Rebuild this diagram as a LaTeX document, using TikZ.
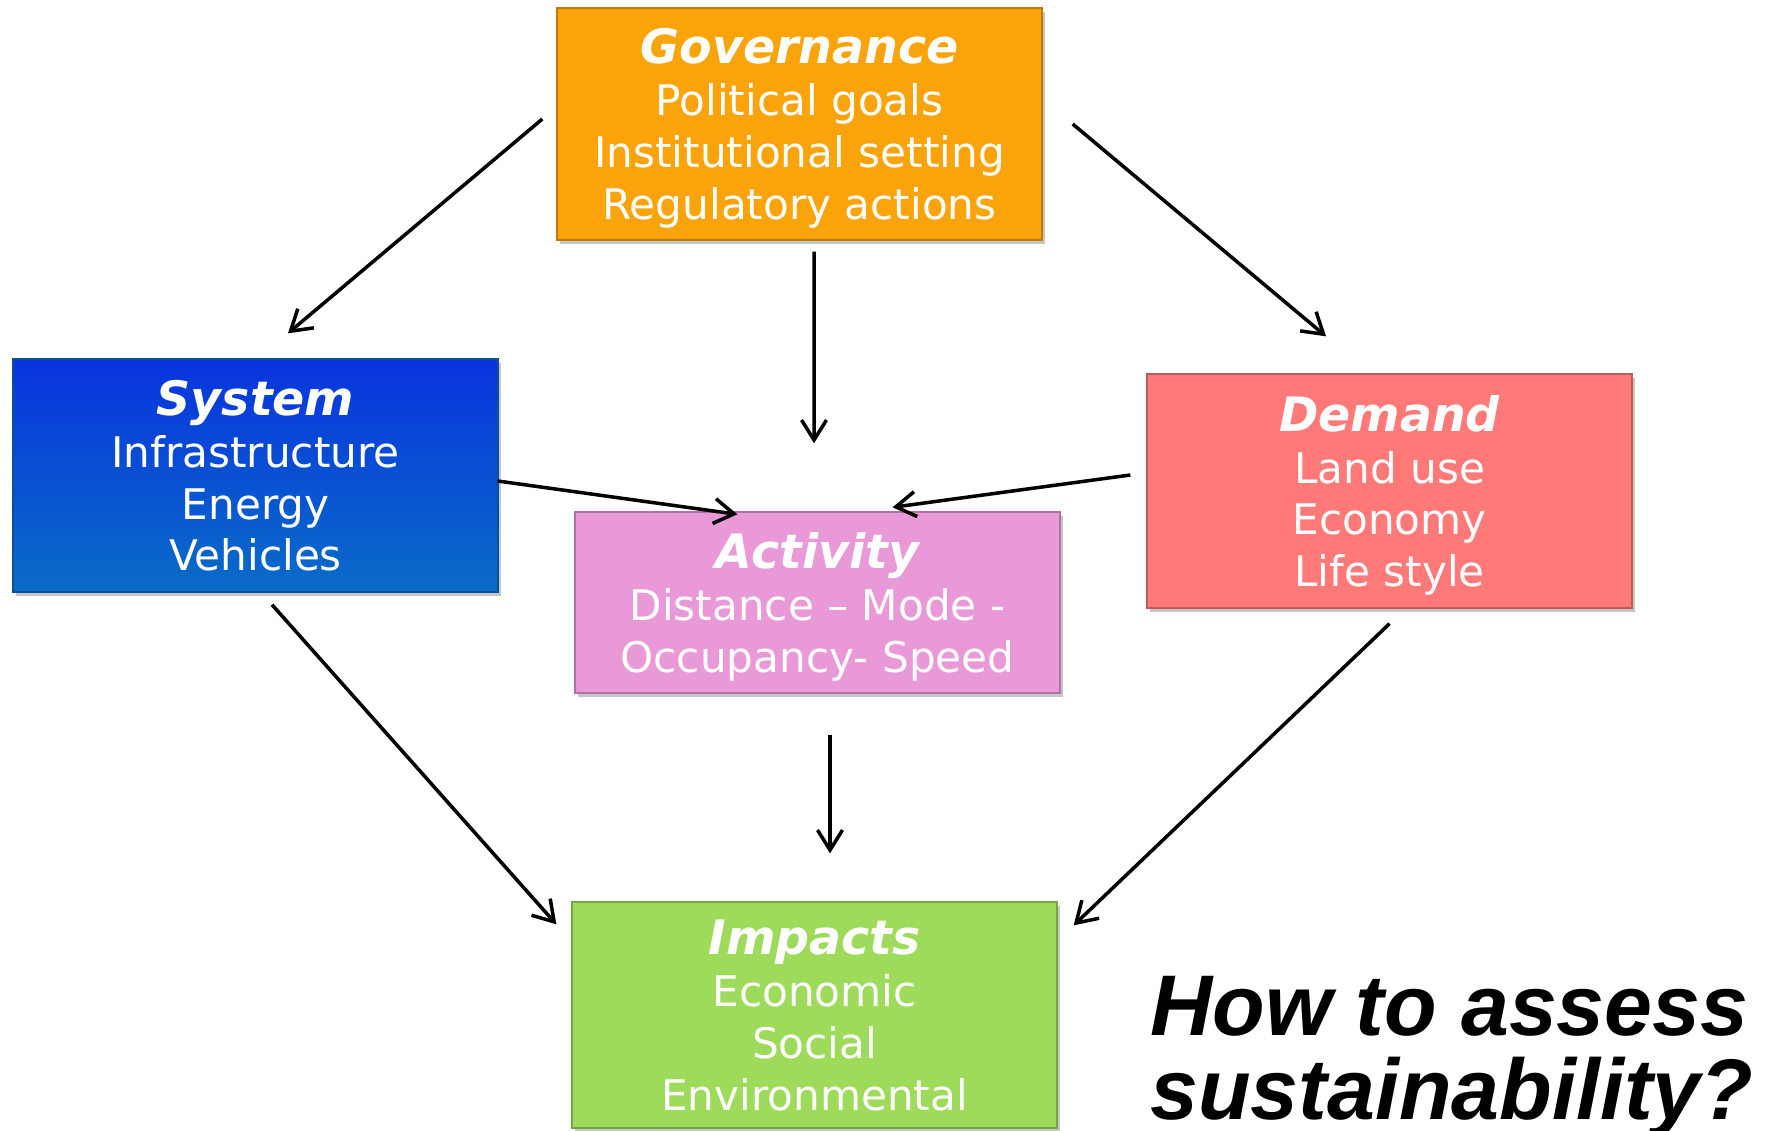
\documentclass[tikz,border=0pt]{standalone}
\usepackage{fontspec}
\setmainfont{DejaVu Sans}
\newfontfamily\askfont{Liberation Sans}
\usetikzlibrary{arrows.meta,calc,shadows}

\definecolor{govorange}{RGB}{250,163,10}
\definecolor{sysblueA}{RGB}{8,52,222}
\definecolor{sysblueB}{RGB}{10,108,200}
\definecolor{demred}{RGB}{255,121,121}
\definecolor{actpink}{RGB}{233,152,216}
\definecolor{impgreen}{RGB}{158,219,90}

\newcommand{\blocktitle}[1]{{\fontsize{27}{30}\selectfont\bfseries\itshape #1}}

\tikzset{
  block/.style={draw=#1!75!black, fill=#1, line width=0.8pt, text=white,
    minimum width=9.7cm, align=center, inner sep=0pt, text depth=0pt,
    font=\fontsize{24}{29.5}\selectfont,
    drop shadow={shadow xshift=1.5pt, shadow yshift=-2.5pt, opacity=0.45}},
  link/.style={-{Straight Barb[length=4mm,width=5mm]}, line width=2pt}
}

\begin{document}
\begin{tikzpicture}[x=0.02cm, y=-0.02cm]
  \useasboundingbox (0,0) rectangle (1773,1131);
  \node[block=govorange, minimum height=4.64cm] (gov) at (799.5, 124)
    {\blocktitle{Governance}\\Political goals\\Institutional setting\\Regulatory actions};
  \node[block=sysblueB, top color=sysblueA, bottom color=sysblueB,
    minimum height=4.66cm] (sys) at (255.5, 475.5)
    {\blocktitle{System}\\Infrastructure\\Energy\\Vehicles};
  \node[block=demred, minimum height=4.68cm] (dem) at (1389.5, 491)
    {\blocktitle{Demand}\\Land use\\Economy\\Life style};
  \node[block=actpink, minimum height=3.62cm] (act) at (817.5, 602.5)
    {\blocktitle{Activity}\\Distance – Mode -\\Occupancy- Speed};
  \node[block=impgreen, minimum height=4.52cm] (imp) at (814.5, 1015)
    {\blocktitle{Impacts}\\Economic\\Social\\Environmental};
  \node[anchor=north west, inner sep=0pt, align=left,
    font=\askfont\fontsize{49}{48}\selectfont\bfseries\itshape] (ask)
    at (1150, 976) {How to assess\\sustainability?};
  % Governance acts on the three blocks below it
  \draw[link] ($(gov.west)+(-14,-5)$) -- ($(sys.north)+(32.5,-25)$);
  \draw[link] ($(gov.east)+(30,0)$) -- ($(dem.north)+(-63.5,-37)$);
  \draw[link] ($(gov.south)+(14.5,11)$) -- ($(act.north)+(-3.5,-68)$);
  % System and demand feed activity
  \draw[link] ($(sys.east)+(-1,5.5)$) -- ($(act.north west)+(163,3)$);
  \draw[link] ($(dem.west)+(-16,-16)$) -- ($(act.north)+(75,-4)$);
  % Everything ends in impacts
  \draw[link] ($(act.south)+(12.5,41)$) -- ($(imp.north)+(15.5,-48)$);
  \draw[link] ($(sys.south)+(16.5,12)$) -- ($(imp.north west)+(-15,23)$);
  \draw[link] ($(dem.south)+(0,15)$) -- ($(imp.north east)+(16,24)$);
\end{tikzpicture}
\end{document}
